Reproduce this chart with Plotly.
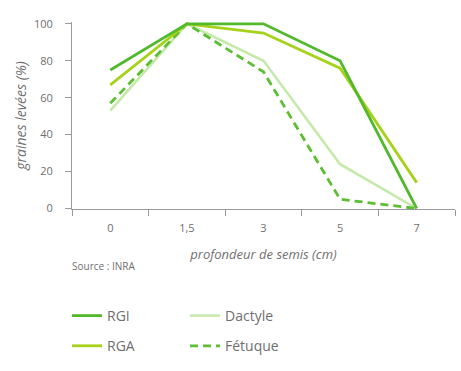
import plotly.graph_objects as go

depths = ["0", "1,5", "3", "5", "7"]
rgi = [75, 100, 100, 80, 0]
rga = [67, 100, 95, 76, 14]
dactyle = [53, 100, 80, 24, 0]
fetuque = [57, 100, 74, 5, 0]
y_ticks = [0, 20, 40, 60, 80, 100]

FONT = "Open Sans"
GREY = "#6f6f6f"
AXIS = "#9a9a9a"

# plot area in pixels
PL, PR, PT, PB = 72, 455, 22, 209
W, H = 461, 371


def px(x):
    return (x - PL) / (PR - PL)


def py(y):
    return (PB - y) / (PB - PT)


fig = go.Figure()
fig.add_trace(go.Scatter(x=depths, y=dactyle, name="Dactyle", mode="lines",
                         line=dict(color="#c4e9aa", width=2.5), legend="legend2",
                         legendgroup="d", legendrank=1))
fig.add_trace(go.Scatter(x=depths, y=fetuque, name="Fétuque", mode="lines",
                         line=dict(color="#5cbe33", width=2.8, dash="8px,5px"),
                         legend="legend2", legendgroup="f", legendrank=2))
fig.add_trace(go.Scatter(x=depths, y=rga, name="RGA", mode="lines",
                         line=dict(color="#a6d21a", width=2.8), legend="legend",
                         legendgroup="a", legendrank=2))
fig.add_trace(go.Scatter(x=depths, y=rgi, name="RGI", mode="lines",
                         line=dict(color="#52b82c", width=2.8), legend="legend",
                         legendgroup="i", legendrank=1))

leg_common = dict(xref="paper", yref="paper", xanchor="left", yanchor="top",
                  orientation="v", font=dict(size=14, color=GREY),
                  tracegroupgap=9, itemwidth=30, bgcolor="rgba(0,0,0,0)",
                  traceorder="grouped")

fig.update_layout(
    width=W, height=H,
    margin=dict(l=PL, r=W - PR, t=PT, b=H - PB, autoexpand=False),
    paper_bgcolor="white", plot_bgcolor="white",
    font=dict(family=FONT, color=GREY, size=11),
    xaxis=dict(type="category", tickson="boundaries", ticks="outside", ticklen=6,
               tickcolor=AXIS, showline=True, linecolor=AXIS, linewidth=1,
               showgrid=False, zeroline=False, range=[-0.5, 4.5], automargin=False,
               ticklabelstandoff=9,
               tickfont=dict(size=11, color=GREY),
               title=dict(text="profondeur de semis (cm)", standoff=15,
                          font=dict(size=13, color=GREY, style="italic"))),
    yaxis=dict(range=[-0.27, 101], tickvals=y_ticks, ticks="outside", ticklen=6,
               tickcolor=AXIS, showline=True, linecolor=AXIS, linewidth=1,
               showgrid=False, zeroline=False, ticklabelstandoff=10, automargin=False,
               tickfont=dict(size=11, color=GREY),
               title=dict(text="graines levées (%)", standoff=4,
                          font=dict(size=14, color=GREY, style="italic"))),
    legend=dict(x=px(67), y=py(300), **leg_common),
    legend2=dict(x=px(185), y=py(300), **leg_common),
    annotations=[dict(text="Source : INRA", x=px(70), y=py(266),
                      xref="paper", yref="paper", showarrow=False,
                      font=dict(size=10, color=GREY),
                      xanchor="left", yanchor="middle")],
)

fig.write_html("out.html", config={"displayModeBar": False},
               post_script="document.body.style.margin='0';document.body.style.padding='0';")
